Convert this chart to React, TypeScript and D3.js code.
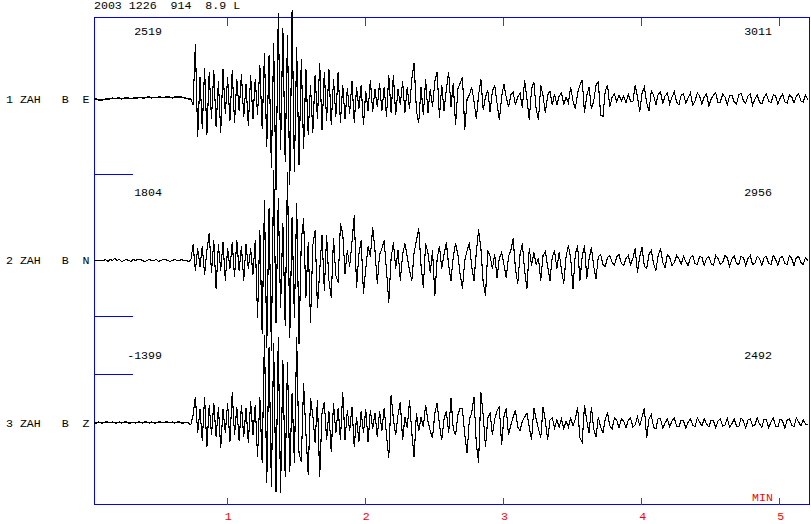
import React from "react";
import * as d3 from "d3";

// ---- header / labels ----
const HEADER = "2003 1226  914  8.9 L";
const CHANNELS = ["1 ZAH   B  E", "2 ZAH   B  N", "3 ZAH   B  Z"];
const LEFT_VALUES = ["2519", "1804", "-1399"];
const RIGHT_VALUES = ["3011", "2956", "2492"];
const MINUTE_TICKS = [1, 2, 3, 4, 5];
const AXIS_UNIT = "MIN";

// ---- samples: one value per second, starting at START_SEC (relative amplitude) ----
const START_SEC = 2.4;
const STEP_SEC = 1;

const traceE = [
  0, 0, -1, -1, -1, 0, 0, 0, 1, 0,
  1, 1, 0, 1, 1, 1, 0, 1, 1, 1,
  2, 1, 1, 2, 2, 1, 2, 1, 2, 2,
  1, 2, 2, 2, 1, 2, 2, 2, 2, 1,
  1, 0, 0, -6, 55, -38, 22, -30, 31, -36,
  27, -20, 29, -28, 18, -34, 30, -15, 22, -22,
  29, -24, 20, -12, 25, -18, 15, -27, 24, -20,
  20, -16, 34, -30, 46, -48, 44, -69, 56, -91,
  86, -51, 71, -63, 64, -86, 89, -73, 52, -66,
  40, -50, 30, -36, 14, -34, 24, -20, 36, -31,
  27, -22, 30, -26, 20, -18, 27, -24, 14, -20,
  11, -15, 18, -24, 12, -10, 14, -26, 8, -12,
  19, -13, 10, -8, 16, -12, 12, -18, 24, -14,
  24, -16, 10, -6, 18, -14, 12, -10, 20, 36,
  -12, -24, 12, -16, 20, -14, 10, -8, 18, 27,
  -19, 14, -12, 10, 27, -8, 16, -26, 10, 16,
  22, -31, 0, 4, 12, -2, -20, 4, 20, -11,
  2, 9, -13, 8, 14, -4, -21, 2, 15, 2,
  -8, 4, 7, -6, 2, 6, -9, 19, 0, -21,
  10, 17, -10, -21, 14, 3, -14, 4, 8, -6,
  5, -6, 3, 6, -5, 2, -4, 12, -2, -10,
  6, 14, 19, -14, 4, 12, -10, -2, 14, 17,
  -16, -18, 8, 14, -8, 2, 5, -3, 4, -2,
  3, -4, 5, -2, -3, 14, 2, -13, 6, 12,
  -4, -12, 8, 4, -6, 5, 7, -4, 3, 6,
  -5, 2, 7, -3, -6, 4, 5, -4, 1, 6,
  -6, -2, 6, 3, -5, 2, 5, -7, 0, 4,
  6, -4, -3, 5, 2, -6, 3, 4, -3, -5,
  4, 6, -2, -4, 3, 5, -6, 0, 4, -3,
  -5, 2, 5, -2, -4, 4, 3, -5, 1, 5,
  -3, -4, 4, 2, -4, 3, 5, -2, -3, 4, -1,
];

const traceN = [
  0, 0, 0, 0, 0, 1, -1, 1, 0, 2,
  0, 1, -1, 0, 1, 0, -1, 1, 0, 1,
  1, 0, -1, 0, 1, 0, 0, 1, -1, 0,
  1, 1, 0, -1, 0, 1, 0, 0, 1, 0,
  0, -1, 0, 16, -10, 12, -6, 14, -14, 10,
  27, -12, 20, -28, 16, -10, 18, -20, 12, -8,
  18, -16, 20, -10, 14, -20, 16, -8, 12, -14,
  20, -57, 30, -73, 60, -87, 52, -90, 90, -62,
  62, -47, 37, -65, 88, -77, 43, -57, 57, -83,
  20, 42, -37, 18, -62, 15, 30, -47, -10, 25,
  -30, 25, -20, -37, 22, -15, -22, 37, 27, -13,
  10, -6, 18, 45, -27, 6, 20, -33, -8, 14,
  4, 33, 10, -23, 6, 12, 20, -10, -42, 2,
  18, -8, 10, -20, 6, 17, 4, -10, -20, 8,
  20, 32, -5, -27, 17, 8, -12, 10, -35, 2,
  14, -8, 6, 18, -5, -20, 4, 17, 6, -14,
  -28, 0, 10, 18, -6, -20, 8, 31, 12, -22,
  -35, 10, 4, -8, 6, -17, 2, 8, -4, -17,
  4, 10, 22, -8, -23, 6, 17, -10, -28, 12,
  -5, 8, -4, 2, -20, 5, 9, -6, -20, 4,
  9, -8, 8, -10, -23, 4, 15, 2, -28, 6,
  15, -20, 4, 15, -18, 2, 13, -6, -18, 4,
  6, -4, -6, 3, 5, -2, -5, 4, 6, -3,
  -5, 2, 5, -4, 2, 12, -12, 4, 13, -6,
  -8, 6, 10, -3, -10, 5, 12, -2, -7, 6,
  3, -5, -2, 5, 2, -4, 4, -1, -5, 3,
  5, -3, -4, 4, 3, -5, 2, 4, -3, -5,
  5, 2, -4, -2, 5, 3, -6, 1, 5, -3,
  -4, 4, 3, -5, 2, 5, -4, -3, 4, 2,
  -5, 3, 4, -3, -4, 5, 1, -5, 3, 4,
  -3, -4, 5, 2, -5, 3, 4, -2, -4, 3, 0,
];

const traceZ = [
  0, 0, 1, 0, 0, 1, 1, 0, 1, 0,
  0, 1, 0, 1, 1, 0, 0, 1, 0, 1,
  1, 0, 1, 1, 0, 1, 0, 0, 1, 1,
  0, 1, 1, 0, 1, 0, 1, 1, 0, 0,
  1, 0, -2, 8, 26, -10, 14, -18, 26, -24,
  18, -12, 20, -14, 16, -25, 14, -10, 20, -19,
  31, -12, 16, -18, 18, -14, 15, -20, 22, -12,
  18, -34, 26, -40, 88, -60, 76, -64, 80, -69,
  86, -70, 63, -54, 61, -49, 30, -40, 86, -30,
  -39, 40, -10, -52, 25, 8, -20, 23, -54, 10,
  21, -17, 12, -29, 20, -10, 15, -17, 31, -17,
  13, -8, 16, -24, 6, -19, 12, -10, 14, -19,
  13, -6, 10, -14, 12, -8, 15, -12, -35, 28,
  4, -12, 8, 21, -17, 6, -5, 23, -10, -34,
  10, -8, 6, -4, 18, 2, -8, -15, 10, 20,
  -2, -17, 4, 12, -10, 25, -6, -12, 8, 15,
  14, -12, -30, 4, 10, 26, -20, -40, 31, 8,
  -24, 5, 10, -12, 4, 12, 16, -22, 6, 15,
  -12, -2, 6, 13, -4, -8, 2, 6, 10, -4,
  -17, 15, 4, -6, -15, 16, 2, -17, 3, 5,
  -5, 3, -4, 4, -6, 2, -4, 5, -3, 4,
  16, -15, -19, 18, 2, -10, 16, -6, -14, 6,
  -4, -10, 4, 10, -3, -6, 5, 3, -5, 4,
  2, -5, 3, 5, -4, -2, 6, -3, 6, 15,
  -15, 4, 8, -4, -6, 5, 4, -5, 0, 4,
  -4, 2, 5, -3, -4, 3, 2, -5, 1, 4,
  -2, -4, 5, 1, -3, 4, -1, -4, 3, 2,
  -5, 2, 4, -3, -2, 5, -4, -1, 4, -3,
  -4, 5, 2, -5, 3, 4, -3, -2, 5, -1,
  -4, 4, 3, -5, 1, 5, -3, -4, 4, 2,
  -5, 3, 4, -2, -4, 5, 1, -3, 3, -1, -2,
];

const TRACES = [traceE, traceN, traceZ];

// ---- layout ----
const W = 811;
const H = 524;
const FRAME = { left: 94.5, right: 809.5, top: 17.5, bottom: 504.5 };
const TRACE_BASE = [99, 260.5, 423];
const HALF_HEIGHT = 88;
const AMP_FULL = 88;
const MARKER_Y = [174.5, 316.5, 374.5];
const FONT = "'Liberation Mono', 'DejaVu Sans Mono', monospace";
const FS = 11.6;
const BLUE = "#0000ff";
const RED = "#ff0000";

export default function App() {
  const x = d3.scaleLinear().domain([0, 5]).range([88.55, 779.3]);

  const paths = TRACES.map((vals, k) => {
    const y = d3
      .scaleLinear()
      .domain([-AMP_FULL, AMP_FULL])
      .range([TRACE_BASE[k] + HALF_HEIGHT, TRACE_BASE[k] - HALF_HEIGHT]);
    const line = d3
      .line<number>()
      .x((_, i) => x((START_SEC + i * STEP_SEC) / 60))
      .y((v) => y(v));
    return line(vals) || "";
  });

  const textStyle: React.CSSProperties = { whiteSpace: "pre" };

  return (
    <svg
      width={W}
      height={H}
      style={{ position: "absolute", left: 0, top: 0, background: "#fff" }}
      fontFamily={FONT}
      fontSize={FS}
    >
      <rect x={0} y={0} width={W} height={H} fill="#fff" />
      {/* frame */}
      <rect
        x={FRAME.left}
        y={FRAME.top}
        width={FRAME.right - FRAME.left}
        height={FRAME.bottom - FRAME.top}
        fill="none"
        stroke={BLUE}
        strokeWidth={1}
        shapeRendering="crispEdges"
      />
      {MARKER_Y.map((yy, i) => (
        <line
          key={"m" + i}
          x1={FRAME.left}
          x2={133}
          y1={yy}
          y2={yy}
          stroke={BLUE}
          shapeRendering="crispEdges"
        />
      ))}
      {/* minute ticks */}
      {MINUTE_TICKS.map((t) => (
        <g key={"t" + t}>
          <line
            x1={Math.round(x(t)) + 0.5}
            x2={Math.round(x(t)) + 0.5}
            y1={FRAME.top}
            y2={FRAME.top + 8}
            stroke={RED}
            shapeRendering="crispEdges"
          />
          <line
            x1={Math.round(x(t)) + 0.5}
            x2={Math.round(x(t)) + 0.5}
            y1={FRAME.bottom}
            y2={FRAME.bottom - 7}
            stroke={RED}
            shapeRendering="crispEdges"
          />
          <text x={x(t) + 1.5} y={520} textAnchor="middle" fill={RED}>
            {t}
          </text>
        </g>
      ))}
      <text x={752} y={501} fill={RED}>
        {AXIS_UNIT}
      </text>
      {/* header */}
      <text x={94} y={9} fill="#000" style={textStyle}>
        {HEADER}
      </text>
      {/* traces */}
      {paths.map((d, k) => (
        <path
          key={"p" + k}
          d={d}
          fill="none"
          stroke="#000"
          strokeWidth={1.1}
          shapeRendering="crispEdges"
        />
      ))}
      {CHANNELS.map((c, k) => (
        <g key={"c" + k}>
          <text x={6} y={TRACE_BASE[k] + 3.8} fill="#000" style={textStyle}>
            {c}
          </text>
          <text x={162} y={TRACE_BASE[k] - 64.5} textAnchor="end" fill="#000">
            {LEFT_VALUES[k]}
          </text>
          <text x={772} y={TRACE_BASE[k] - 64.5} textAnchor="end" fill="#000">
            {RIGHT_VALUES[k]}
          </text>
        </g>
      ))}
    </svg>
  );
}
